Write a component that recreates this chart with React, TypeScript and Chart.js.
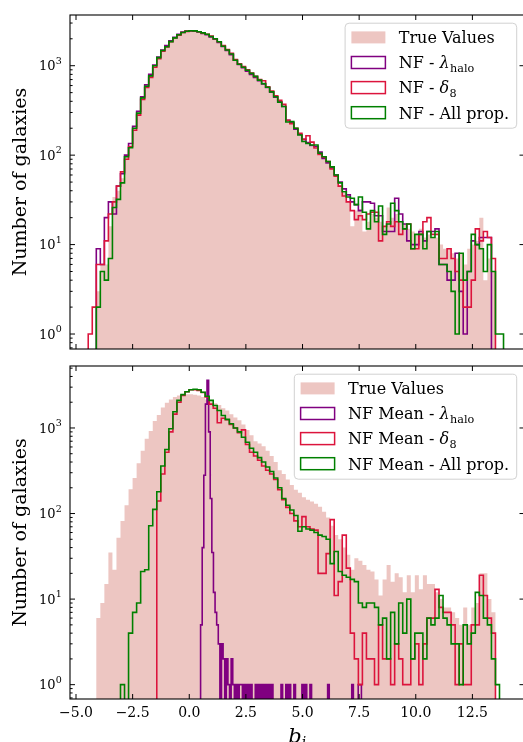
import React, { useEffect, useRef } from "react";
import { Chart, registerables } from "chart.js";

Chart.register(...registerables);

// ---------------- data ----------------
const binStart = -4.46; // first bin edge of the b_i histograms
const binWidth = 0.178; // histogram bin width
const spikeStart = 0.5; // first bin edge of the NF Mean - lambda_halo histogram
const spikeWidth = 0.071;

const xTickValues = [-5, -2.5, 0, 2.5, 5, 7.5, 10, 12.5];
const xTickLabels = ["−5.0", "−2.5", "0.0", "2.5", "5.0", "7.5", "10.0", "12.5"];
const yTickExponents = [0, 1, 2, 3];

// Top panel counts
const topTrue = [
  0, 0, 3, 6, 6, 16, 34, 40, 55, 95,
  125, 195, 290, 430, 580, 760, 980, 1210, 1460, 1620,
  1840, 2030, 2200, 2330, 2410, 2440, 2430, 2380, 2300, 2200,
  2100, 1960, 1810, 1640, 1480, 1330, 1130, 1020, 940, 870,
  800, 740, 675, 620, 560, 500, 440, 385, 340, 235,
  225, 195, 165, 142, 132, 125, 118, 100, 92, 80,
  70, 57, 46, 38, 30, 16, 24, 25, 14, 18,
  22, 20, 18, 16, 26, 20, 22, 18, 17, 15,
  14, 13, 15, 12, 13, 12, 12, 10, 9, 9,
  8, 7, 8, 6, 9, 10, 11, 20, 4, 7,
  5, 0, 0,
];
const topLambda = [
  0, 0, 9, 6, 20, 30, 22, 45, 62, 100,
  135, 210, 310, 450, 610, 800, 1020, 1250, 1500, 1680,
  1900, 2080, 2250, 2380, 2440, 2450, 2430, 2380, 2300, 2220,
  2100, 1980, 1820, 1640, 1480, 1330, 1150, 1030, 950, 870,
  800, 740, 680, 625, 570, 505, 445, 395, 350, 245,
  230, 195, 170, 150, 138, 128, 125, 108, 92, 82,
  72, 60, 50, 42, 36, 30, 28, 24, 30, 30,
  29, 21, 21, 14, 14, 14, 33, 22, 17, 11,
  10, 10, 14, 11, 14, 14, 15, 6, 6, 4,
  4, 8, 3, 1, 5, 11, 10, 12, 12, 12,
  0, 0, 0,
];
const topDelta = [
  1, 2, 6, 6, 11, 22, 30, 45, 65, 90,
  125, 190, 280, 420, 570, 740, 960, 1200, 1450, 1620,
  1850, 2050, 2200, 2350, 2420, 2460, 2440, 2400, 2310, 2250,
  2150, 2000, 1850, 1680, 1520, 1380, 1170, 1050, 980, 900,
  830, 760, 700, 680, 580, 520, 460, 410, 370, 245,
  225, 200, 175, 150, 165, 140, 120, 102, 95, 85,
  70, 58, 45, 35, 30, 24, 19, 21, 19, 22,
  23, 23, 11, 16, 18, 16, 18, 13, 15, 17,
  9, 9, 13, 18, 20, 13, 13, 7, 7, 9,
  7, 5, 4, 2, 2, 4, 15, 11, 14, 12,
  7, 0, 0,
];
const topAll = [
  0, 0, 2, 5, 4, 7, 26, 32, 49, 96,
  121, 200, 295, 437, 590, 770, 1000, 1230, 1480, 1630,
  1860, 2050, 2220, 2350, 2430, 2460, 2450, 2400, 2330, 2250,
  2120, 2000, 1850, 1650, 1500, 1350, 1150, 1040, 960, 890,
  820, 760, 690, 630, 575, 510, 450, 390, 350, 235,
  237, 200, 168, 142, 135, 130, 130, 105, 96, 85,
  74, 60, 49, 39, 34, 33, 28, 34, 23, 15,
  24, 18, 27, 13, 17, 29, 24, 18, 15, 17,
  9, 13, 13, 9, 14, 12, 14, 6, 6, 5,
  3, 1, 8, 4, 5, 13, 10, 9, 5, 10,
  5, 1, 1,
];

// Bottom panel counts
const botTrue = [
  0, 0, 6, 9, 15, 35, 22, 52, 82, 125,
  192, 260, 388, 540, 750, 920, 1210, 1420, 1730, 1970,
  2150, 2300, 2400, 2450, 2480, 2480, 2450, 2400, 2300, 2150,
  2050, 1950, 1850, 1700, 1600, 1450, 1330, 1230, 1100, 950,
  820, 700, 660, 610, 540, 470, 400, 320, 290, 250,
  215, 190, 175, 155, 145, 138, 130, 120, 105, 90,
  72, 56, 50, 40, 33, 22, 30, 28, 25, 22,
  21, 17, 11, 17, 25, 16, 20, 18, 12, 19,
  12, 19, 13, 19, 15, 15, 12, 10, 8, 8,
  7, 6, 5, 8, 5, 8, 9, 20, 20, 10,
  7, 0,
];
const botLambdaMean = [
  5, 40, 280, 1900, 3600, 900, 150, 35, 12, 7,
  5, 3, 0, 3, 2, 0, 2, 1, 0, 2,
  1, 0, 1, 0, 1, 1, 0, 1, 0, 1,
  0, 1, 0, 0, 1, 0, 1, 0, 1, 0,
  1, 0, 1, 0, 1, 0, 0, 0, 0, 0,
  1, 0, 0, 1, 0, 1, 0, 0, 1, 0,
  0, 0, 0, 1, 0, 1, 0, 0, 1, 0,
  0, 0, 0, 0, 0, 0, 0, 0, 0, 1,
  0, 0, 0, 0, 0, 0, 0, 0, 0, 0,
  0, 0, 0, 0, 1, 0, 0, 0, 1, 1,
];
const botDeltaMean = [
  0, 0, 0, 0, 0, 0, 0, 0, 0, 0,
  0, 0, 0, 0, 0, 0, 0, 140, 290, 520,
  900, 1450, 2000, 2400, 2650, 2800, 2800, 2750, 2600, 2300,
  1900, 1700, 1150, 1300, 1250, 1100, 1000, 880, 950, 640,
  520, 470, 420, 360, 320, 290, 250, 190, 145, 118,
  100, 82, 70, 92, 70, 66, 64, 20, 20, 34,
  85, 11, 16, 56, 23, 4, 2, 1, 4, 2,
  2, 1, 5, 2, 2, 1, 3, 2, 1, 1,
  2, 3, 1, 3, 6, 6, 13, 8, 7, 7,
  5, 1, 3, 1, 1, 5, 5, 19, 11, 6,
  4, 0,
];
const botAllMean = [
  0, 0, 0, 0, 0, 0, 0, 0, 1, 0,
  4, 7, 9, 21, 22, 72, 112, 180, 360, 560,
  980, 1550, 2100, 2450, 2650, 2800, 2830, 2800, 2620, 2350,
  2100, 1830, 1600, 1400, 1260, 1120, 1000, 900, 780, 680,
  580, 520, 450, 400, 350, 310, 260, 200, 150, 125,
  110, 95, 62, 70, 66, 64, 60, 56, 54, 50,
  26, 36, 21, 19, 18, 17, 16, 9, 8, 9,
  9, 8, 5, 6, 2, 7, 3, 9, 4, 10,
  2, 4, 4, 2, 6, 5, 6, 11, 6, 5,
  3, 3, 1, 5, 3, 4, 12, 11, 6, 5,
  2, 1,
];

const topLegend = [
  { text: "True Values" },
  { text: "NF - ", sym: "λ", sub: "halo" },
  { text: "NF - ", sym: "δ", sub: "8" },
  { text: "NF - All prop." },
];
const bottomLegend = [
  { text: "True Values" },
  { text: "NF Mean - ", sym: "λ", sub: "halo" },
  { text: "NF Mean - ", sym: "δ", sub: "8" },
  { text: "NF Mean - All prop." },
];

const yLabel = "Number of galaxies";
const xLabelMain = "b";
const xLabelSub = "i";

// ---------------- styles ----------------
const COL_TRUE = "rgb(237,198,194)";
const COL_LAMBDA = "#800080";
const COL_DELTA = "#dc143c";
const COL_ALL = "#008000";
const SERIF = '"DejaVu Serif", "Liberation Serif", serif';
const ZERO = 0.1; // empty bins sit below the axis floor

const X_MIN = -5.265;
const X_MAX = 14.8;

type Entry = { text: string; sym?: string; sub?: string };

function stepPoints(start: number, width: number, counts: number[]) {
  const pts: { x: number; y: number }[] = [{ x: start, y: ZERO }];
  counts.forEach((c, i) => {
    const y = c > 0 ? c : ZERO;
    pts.push({ x: start + i * width, y });
    pts.push({ x: start + (i + 1) * width, y });
  });
  pts.push({ x: start + counts.length * width, y: ZERO });
  return pts;
}

function line(ctx: CanvasRenderingContext2D, x1: number, y1: number, x2: number, y2: number) {
  ctx.beginPath();
  ctx.moveTo(x1, y1);
  ctx.lineTo(x2, y2);
  ctx.stroke();
}

function drawLegend(ctx: CanvasRenderingContext2D, a: any, entries: Entry[], colors: string[]) {
  const fs = 16;
  const font = `${fs}px ${SERIF}`;
  const ifont = `italic ${fs}px ${SERIF}`;
  const sfont = `${fs * 0.7}px ${SERIF}`;
  const widths = entries.map((e) => {
    ctx.font = font;
    let w = ctx.measureText(e.text).width;
    if (e.sym) {
      ctx.font = ifont;
      w += ctx.measureText(e.sym).width;
      ctx.font = sfont;
      w += ctx.measureText(e.sub || "").width + 0.5;
    }
    return w;
  });
  const maxW = Math.max(...widths);
  const padL = 6.3, patchW = 34, gap = 13.4, padR = 7.5;
  const boxW = padL + patchW + gap + maxW + padR;
  const boxH = 105;
  const right = a.right - 7.8;
  const top = a.top + 8.2;
  const left = right - boxW;
  ctx.beginPath();
  if ((ctx as any).roundRect) (ctx as any).roundRect(left, top, boxW, boxH, 4);
  else ctx.rect(left, top, boxW, boxH);
  ctx.fillStyle = "rgba(255,255,255,0.8)";
  ctx.fill();
  ctx.strokeStyle = "rgba(204,204,204,0.9)";
  ctx.lineWidth = 1;
  ctx.stroke();
  entries.forEach((e, i) => {
    const cy = top + 14.2 + i * 25.1;
    const px = left + padL;
    if (i === 0) {
      ctx.fillStyle = COL_TRUE;
      ctx.fillRect(px, cy - 6, patchW, 12);
    } else {
      ctx.fillStyle = "#fff";
      ctx.fillRect(px, cy - 6, patchW, 12);
      ctx.strokeStyle = colors[i];
      ctx.lineWidth = 1.5;
      ctx.strokeRect(px, cy - 6, patchW, 12);
    }
    let tx = px + patchW + gap;
    const by = cy + 5.8;
    ctx.fillStyle = "#000";
    ctx.textAlign = "left";
    ctx.textBaseline = "alphabetic";
    ctx.font = font;
    ctx.fillText(e.text, tx, by);
    tx += ctx.measureText(e.text).width;
    if (e.sym) {
      ctx.font = ifont;
      ctx.fillText(e.sym, tx, by);
      tx += ctx.measureText(e.sym).width;
      ctx.font = sfont;
      ctx.fillText(e.sub || "", tx + 0.5, by + 3.6);
    }
  });
}

function makeDecor(entries: Entry[], showXLabels: boolean) {
  return {
    id: "decor",
    afterDraw(chart: any) {
      const ctx: CanvasRenderingContext2D = chart.ctx;
      const a = chart.chartArea;
      const xs = chart.scales.x;
      const ys = chart.scales.y;
      ctx.save();
      ctx.strokeStyle = "#000";
      ctx.lineWidth = 1.1;
      ctx.strokeRect(a.left, a.top, a.right - a.left, a.bottom - a.top);
      // x ticks (inward, bottom and top)
      ctx.lineWidth = 1;
      xTickValues.forEach((v) => {
        const px = xs.getPixelForValue(v);
        line(ctx, px, a.bottom, px, a.bottom - 5);
        line(ctx, px, a.top, px, a.top + 5);
      });
      // y ticks (log), major both sides, minor left
      for (let e = -1; e <= 4; e++) {
        const major = Math.pow(10, e);
        if (major >= ys.min && major <= ys.max) {
          const py = ys.getPixelForValue(major);
          line(ctx, a.left, py, a.left + 5, py);
          line(ctx, a.right, py, a.right - 5, py);
        }
        for (let m = 2; m <= 9; m++) {
          const v = m * major;
          if (v < ys.min || v > ys.max) continue;
          const py = ys.getPixelForValue(v);
          line(ctx, a.left, py, a.left + 2.6, py);
        }
      }
      // y tick labels 10^e
      ctx.fillStyle = "#000";
      ctx.textBaseline = "alphabetic";
      ctx.textAlign = "left";
      yTickExponents.forEach((e) => {
        const py = ys.getPixelForValue(Math.pow(10, e));
        ctx.font = `13px ${SERIF}`;
        const wb = ctx.measureText("10").width;
        ctx.font = `9.5px ${SERIF}`;
        const ws = ctx.measureText(String(e)).width;
        const x0 = a.left - 8.5 - ws - wb;
        ctx.font = `13px ${SERIF}`;
        ctx.fillText("10", x0, py + 4.7);
        ctx.font = `9.5px ${SERIF}`;
        ctx.fillText(String(e), x0 + wb + 0.3, py - 2);
      });
      // y axis title
      ctx.save();
      ctx.translate(25.5, (a.top + a.bottom) / 2);
      ctx.rotate(-Math.PI / 2);
      ctx.font = `19px ${SERIF}`;
      ctx.textAlign = "center";
      ctx.fillText(yLabel, 0, 0);
      ctx.restore();
      if (showXLabels) {
        ctx.font = `14px ${SERIF}`;
        ctx.textAlign = "center";
        xTickValues.forEach((v, i) => {
          ctx.fillText(xTickLabels[i], xs.getPixelForValue(v), a.bottom + 17.7);
        });
        const cx = (a.left + a.right) / 2;
        ctx.font = `italic 21px ${SERIF}`;
        const wb = ctx.measureText(xLabelMain).width;
        ctx.font = `italic 14px ${SERIF}`;
        const wi = ctx.measureText(xLabelSub).width;
        const sx = cx - (wb + wi) / 2;
        ctx.textAlign = "left";
        ctx.font = `italic 21px ${SERIF}`;
        ctx.fillText(xLabelMain, sx, a.bottom + 44);
        ctx.font = `italic 14px ${SERIF}`;
        ctx.fillText(xLabelSub, sx + wb, a.bottom + 48);
      }
      drawLegend(ctx, a, entries, [COL_TRUE, COL_LAMBDA, COL_DELTA, COL_ALL]);
      ctx.restore();
    },
  };
}

function lineDataset(label: string, data: any[], color: string, order: number) {
  return {
    label,
    data,
    borderColor: color,
    borderWidth: 1.6,
    backgroundColor: "transparent",
    fill: false,
    pointRadius: 0,
    tension: 0,
    borderJoinStyle: "miter" as const,
    order,
  };
}

function buildConfig(
  trueCounts: number[],
  series: { label: string; start: number; width: number; counts: number[]; color: string }[],
  yMax: number,
  padding: any,
  entries: Entry[],
  showXLabels: boolean
) {
  const datasets: any[] = [
    {
      label: "True Values",
      data: stepPoints(binStart, binWidth, trueCounts),
      borderWidth: 0,
      borderColor: "transparent",
      backgroundColor: COL_TRUE,
      fill: "start",
      pointRadius: 0,
      tension: 0,
      order: 10,
    },
  ];
  series.forEach((s, i) => {
    datasets.push(lineDataset(s.label, stepPoints(s.start, s.width, s.counts), s.color, 3 - i));
  });
  return {
    type: "line" as const,
    data: { datasets },
    options: {
      responsive: false,
      animation: false,
      events: [],
      layout: { padding },
      scales: {
        x: { type: "linear", min: X_MIN, max: X_MAX, display: false },
        y: { type: "logarithmic", min: 0.68, max: yMax, display: false },
      },
      plugins: {
        legend: { display: false },
        tooltip: { enabled: false },
        title: { display: false },
      },
    },
    plugins: [makeDecor(entries, showXLabels)],
  };
}

export default function App() {
  const topRef = useRef<HTMLCanvasElement>(null);
  const botRef = useRef<HTMLCanvasElement>(null);

  useEffect(() => {
    const top = new Chart(
      topRef.current as HTMLCanvasElement,
      buildConfig(
        topTrue,
        [
          { label: "NF - lambda_halo", start: binStart, width: binWidth, counts: topLambda, color: COL_LAMBDA },
          { label: "NF - delta_8", start: binStart, width: binWidth, counts: topDelta, color: COL_DELTA },
          { label: "NF - All prop.", start: binStart, width: binWidth, counts: topAll, color: COL_ALL },
        ],
        3690,
        { left: 70, top: 15, right: 5.5, bottom: 11 },
        topLegend,
        false
      ) as any
    );
    const bot = new Chart(
      botRef.current as HTMLCanvasElement,
      buildConfig(
        botTrue,
        [
          { label: "NF Mean - lambda_halo", start: spikeStart, width: spikeWidth, counts: botLambdaMean, color: COL_LAMBDA },
          { label: "NF Mean - delta_8", start: binStart, width: binWidth, counts: botDeltaMean, color: COL_DELTA },
          { label: "NF Mean - All prop.", start: binStart, width: binWidth, counts: botAllMean, color: COL_ALL },
        ],
        5300,
        { left: 70, top: 6, right: 5.5, bottom: 43 },
        bottomLegend,
        true
      ) as any
    );
    return () => {
      top.destroy();
      bot.destroy();
    };
  }, []);

  return (
    <div
      style={{
        position: "fixed",
        left: 0,
        top: 0,
        width: 523,
        height: 742,
        overflow: "hidden",
        background: "#fff",
      }}
    >
      <canvas ref={topRef} width={530} height={360} style={{ position: "absolute", left: 0, top: 0 }} />
      <canvas ref={botRef} width={530} height={382} style={{ position: "absolute", left: 0, top: 360 }} />
    </div>
  );
}
